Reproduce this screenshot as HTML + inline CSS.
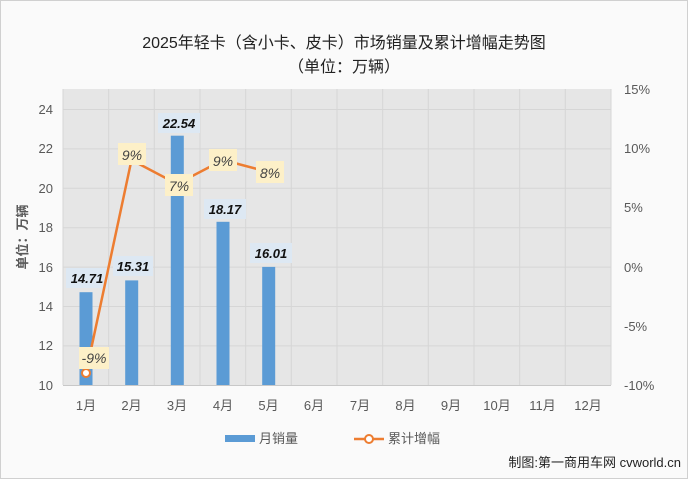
<!DOCTYPE html>
<html><head><meta charset="utf-8"><style>
body{margin:0;background:#fff}
svg text{font-family:"Liberation Sans","Noto Sans CJK SC",sans-serif}
</style></head><body>
<svg width="688" height="479" viewBox="0 0 688 479" xmlns="http://www.w3.org/2000/svg">
<rect x="0.5" y="0.5" width="687" height="478" fill="#fafafa" stroke="#d0d0d0"/>
<text x="344" y="48" text-anchor="middle" font-size="16" fill="#222">2025年轻卡（含小卡、皮卡）市场销量及累计增幅走势图</text>
<text x="344" y="72" text-anchor="middle" font-size="16" fill="#222">（单位：万辆）</text>
<rect x="63" y="89" width="548" height="296" fill="#e6e6e6"/>
<g stroke="#d6d6d6" stroke-width="1">
<line x1="63" y1="109.5" x2="611" y2="109.5"/><line x1="63" y1="148.9" x2="611" y2="148.9"/>
<line x1="63" y1="188.3" x2="611" y2="188.3"/><line x1="63" y1="227.7" x2="611" y2="227.7"/>
<line x1="63" y1="267.1" x2="611" y2="267.1"/><line x1="63" y1="306.5" x2="611" y2="306.5"/>
<line x1="63" y1="345.9" x2="611" y2="345.9"/>
<line x1="108.7" y1="89" x2="108.7" y2="385"/><line x1="154.3" y1="89" x2="154.3" y2="385"/>
<line x1="200" y1="89" x2="200" y2="385"/><line x1="245.7" y1="89" x2="245.7" y2="385"/>
<line x1="291.3" y1="89" x2="291.3" y2="385"/><line x1="337" y1="89" x2="337" y2="385"/>
<line x1="382.7" y1="89" x2="382.7" y2="385"/><line x1="428.3" y1="89" x2="428.3" y2="385"/>
<line x1="474" y1="89" x2="474" y2="385"/><line x1="519.7" y1="89" x2="519.7" y2="385"/>
<line x1="565.3" y1="89" x2="565.3" y2="385"/><line x1="611" y1="89" x2="611" y2="385"/>
<line x1="63" y1="89" x2="63" y2="385"/>
</g>
<line x1="63" y1="385.5" x2="611" y2="385.5" stroke="#c8c8c8"/>
<g fill="#595959" font-size="13" text-anchor="end">
<text x="53" y="114">24</text><text x="53" y="153">22</text><text x="53" y="193">20</text>
<text x="53" y="232">18</text><text x="53" y="272">16</text><text x="53" y="311">14</text>
<text x="53" y="350">12</text><text x="53" y="390">10</text>
</g>
<g fill="#595959" font-size="13" text-anchor="start">
<text x="624" y="94">15%</text><text x="624" y="153">10%</text><text x="624" y="212">5%</text>
<text x="624" y="272">0%</text><text x="624" y="331">-5%</text><text x="624" y="390">-10%</text>
</g>
<text transform="translate(27,237) rotate(-90)" text-anchor="middle" font-size="13" font-weight="bold" fill="#595959">单位：万辆</text>
<g fill="#595959" font-size="13" text-anchor="middle">
<text x="86" y="410">1月</text><text x="131.5" y="410">2月</text><text x="177" y="410">3月</text>
<text x="223" y="410">4月</text><text x="268.5" y="410">5月</text><text x="314" y="410">6月</text>
<text x="360" y="410">7月</text><text x="405.5" y="410">8月</text><text x="451" y="410">9月</text>
<text x="497" y="410">10月</text><text x="542.5" y="410">11月</text><text x="588" y="410">12月</text>
</g>
<g fill="#5b9bd5">
<rect x="79.5" y="292.2" width="13" height="92.8"/>
<rect x="125.2" y="280.4" width="13" height="104.6"/>
<rect x="170.8" y="135.7" width="13" height="249.3"/>
<rect x="216.5" y="221.8" width="13" height="163.2"/>
<rect x="262.2" y="266.9" width="13" height="118.1"/>
</g>
<g font-size="13" font-weight="bold" font-style="italic" fill="#111" text-anchor="middle">
<rect x="66" y="268" width="42" height="20" fill="#dde8f3"/><text x="87" y="283">14.71</text>
<rect x="113" y="256" width="40" height="20" fill="#dde8f3"/><text x="133" y="271">15.31</text>
<rect x="158" y="113" width="42" height="20" fill="#dde8f3"/><text x="179" y="128">22.54</text>
<rect x="204" y="199" width="42" height="20" fill="#dde8f3"/><text x="225" y="214">18.17</text>
<rect x="250" y="243" width="42" height="20" fill="#dde8f3"/><text x="271" y="258">16.01</text>
</g>
<polyline points="86,373 131.5,160 177,184 223,160 268.5,172" fill="none" stroke="#ed7d31" stroke-width="2.5"/>
<circle cx="86" cy="373" r="4" fill="#fff" stroke="#ed7d31" stroke-width="2"/>
<g font-size="14" font-style="italic" fill="#444" text-anchor="middle">
<rect x="79" y="347" width="30" height="22" fill="#fdf0c8"/><text x="94" y="363">-9%</text>
<rect x="118" y="143" width="28" height="22" fill="#fdf0c8"/><text x="132" y="160">9%</text>
<rect x="165" y="174" width="28" height="22" fill="#fdf0c8"/><text x="179" y="191">7%</text>
<rect x="209" y="149" width="28" height="22" fill="#fdf0c8"/><text x="223" y="166">9%</text>
<rect x="256" y="161" width="28" height="22" fill="#fdf0c8"/><text x="270" y="178">8%</text>
</g>
<rect x="225" y="435" width="30" height="7" fill="#5b9bd5"/>
<text x="259" y="443" font-size="13" fill="#595959">月销量</text>
<line x1="354" y1="439" x2="384" y2="439" stroke="#ed7d31" stroke-width="2.5"/>
<circle cx="369" cy="439" r="4" fill="#fff" stroke="#ed7d31" stroke-width="2"/>
<text x="388" y="443" font-size="13" fill="#595959">累计增幅</text>
<text x="681" y="467" text-anchor="end" font-size="13" fill="#222">制图:第一商用车网 cvworld.cn</text>
</svg>
</body></html>
